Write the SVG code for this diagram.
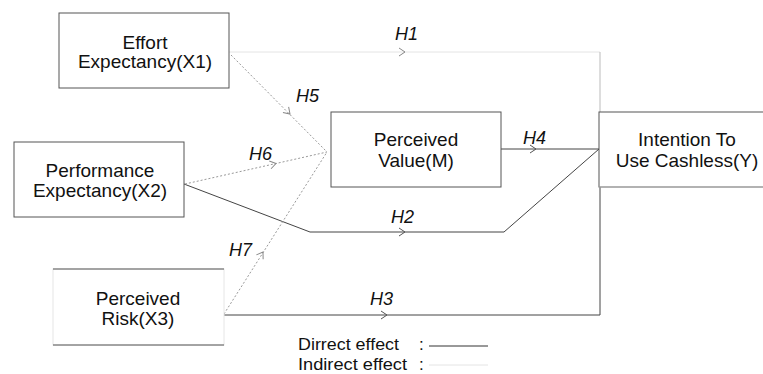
<svg xmlns="http://www.w3.org/2000/svg" width="763" height="374" viewBox="0 0 763 374">
<defs>
<style>
.box{fill:#fff;stroke:#555;stroke-width:1}
.lbl{font-family:"Liberation Sans",Arial,sans-serif;font-size:19px;fill:#111;text-anchor:middle}
.h{font-family:"Liberation Sans",Arial,sans-serif;font-size:18px;font-style:italic;fill:#111}
.leg{font-family:"Liberation Sans",Arial,sans-serif;font-size:17px;fill:#111}
.direct{fill:none;stroke:#444;stroke-width:1}
.indirect{fill:none;stroke:#999;stroke-width:1;stroke-dasharray:2 2}
.arr{fill:none;stroke:#555;stroke-width:1}
.arrL{fill:none;stroke:#888;stroke-width:1}
</style>
<polyline id="chv" points="-6,-4 0,0 -6,4"/>
</defs>
<rect width="763" height="374" fill="#fff"/>
<g id="connectors">
<path id="h1a" d="M229,52 L600,52" fill="none" stroke="#e4e4e4" stroke-width="1"/>
<path id="h1b" d="M600,52 L600,112" fill="none" stroke="#bbb" stroke-width="1"/>
<path id="h2" class="direct" d="M184,184 L310,232 L504,232 L599,149"/>
<path id="h3" class="direct" d="M224,315 L600,315 L600,187"/>
<path id="h4" class="direct" d="M501,149 L599,149"/>
<path id="h5" class="indirect" d="M231,55 L327,152"/>
<path id="h6" class="indirect" d="M185,184 L327,152"/>
<path id="h7" class="indirect" d="M224,314 L327,152"/>
<use href="#chv" class="arrL" transform="translate(405,52)"/>
<use href="#chv" class="arr" transform="translate(405,232)"/>
<use href="#chv" class="arr" transform="translate(387,315)"/>
<use href="#chv" class="arr" transform="translate(536,149)"/>
<use href="#chv" class="arrL" transform="translate(290,114) rotate(45.3)"/>
<use href="#chv" class="arrL" transform="translate(276,163.5) rotate(-12.7)"/>
<use href="#chv" class="arrL" transform="translate(263,252) rotate(-57.4)"/>
</g>
<g id="effort">
<rect class="box" x="59" y="13" width="170" height="75"/>
<text class="lbl" x="145" y="49">Effort</text>
<text class="lbl" x="145" y="68">Expectancy(X1)</text>
</g>
<g id="performance">
<rect class="box" x="14" y="142" width="170" height="75"/>
<text class="lbl" x="100" y="177">Performance</text>
<text class="lbl" x="100" y="197">Expectancy(X2)</text>
</g>
<g id="risk">
<rect x="53" y="269" width="171" height="76" fill="#fff" stroke="#e6e6e6"/>
<line x1="53" y1="269" x2="224" y2="269" stroke="#555"/>
<line x1="53" y1="345" x2="224" y2="345" stroke="#555"/>
<text class="lbl" x="138" y="305">Perceived</text>
<text class="lbl" x="138" y="325">Risk(X3)</text>
</g>
<g id="value">
<rect class="box" x="331" y="112" width="170" height="75"/>
<text class="lbl" x="416" y="146">Perceived</text>
<text class="lbl" x="416" y="167">Value(M)</text>
</g>
<g id="intention">
<rect x="599" y="112" width="170" height="75" fill="#fff" stroke="#555"/>
<line x1="599" y1="187" x2="763" y2="187" stroke="#bbb"/>
<text class="lbl" x="687" y="146">Intention To</text>
<text class="lbl" x="687" y="167">Use Cashless(Y)</text>
</g>
<g id="labels">
<text class="h" x="395" y="40">H1</text>
<text class="h" x="296" y="102">H5</text>
<text class="h" x="249" y="160">H6</text>
<text class="h" x="523" y="144">H4</text>
<text class="h" x="391" y="223">H2</text>
<text class="h" x="229" y="256">H7</text>
<text class="h" x="370" y="305">H3</text>
</g>
<g id="legend">
<text class="leg" x="298" y="350" textLength="101" lengthAdjust="spacingAndGlyphs">Dirrect effect</text>
<text class="leg" x="419" y="350">:</text>
<line x1="429" y1="346" x2="488" y2="346" stroke="#333"/>
<text class="leg" x="298" y="370" textLength="109" lengthAdjust="spacingAndGlyphs">Indirect effect</text>
<text class="leg" x="419" y="370">:</text>
<line x1="429" y1="365" x2="488" y2="365" stroke="#e4e4e4"/>
</g>
</svg>
